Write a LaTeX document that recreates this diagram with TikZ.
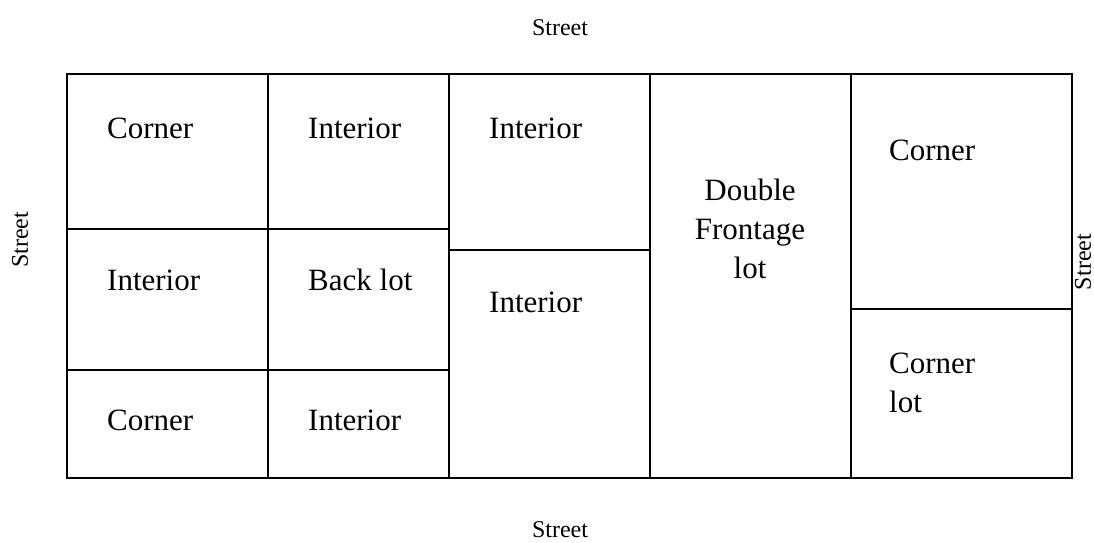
\documentclass[tikz,border=0pt]{standalone}
\usepackage{fontspec}
\setmainfont{Liberation Serif}
\begin{document}
\begin{tikzpicture}[x=1pt, y=-1pt,
    lot/.style={anchor=west, inner sep=0pt, font=\fontsize{31}{39}\selectfont},
    street/.style={inner sep=0pt, font=\fontsize{24}{28}\selectfont},
    wall/.style={line width=1.3pt}]
    \useasboundingbox (0,0) rectangle (1094,542);

    % outer block
    \draw[wall] (67,74) rectangle (1072,478);
    % column lines
    \foreach \x in {268, 449, 650, 851}
        \draw[wall] (\x,74) -- (\x,478);
    % lot lines
    \draw[wall] (67,229) -- (449,229);
    \draw[wall] (67,370) -- (449,370);
    \draw[wall] (449,250) -- (650,250);
    \draw[wall] (851,309) -- (1072,309);

    % lots
    \node[lot] (c1) at (107,128) {Corner};
    \node[lot] (i1) at (308,128) {Interior};
    \node[lot] (i2) at (489,128) {Interior};
    \node[lot] (i3) at (107,280) {Interior};
    \node[lot] (bl) at (308,280) {Back lot};
    \node[lot] (i4) at (489,302) {Interior};
    \node[lot] (c2) at (107,420) {Corner};
    \node[lot] (i5) at (308,420) {Interior};
    \node[lot] (c3) at (889,150) {Corner};
    \node[lot, align=left] (cl) at (889,383) {Corner\\lot};
    \node[lot, anchor=center, align=center] (df) at (750,229) {Double\\Frontage\\lot};

    % streets
    \node[street] (st) at (560,28) {Street};
    \node[street] (sb) at (560,530) {Street};
    \node[street, rotate=90] (sl) at (20,240) {Street};
    \node[street, rotate=90] (sr) at (1083,262) {Street};
\end{tikzpicture}
\end{document}
